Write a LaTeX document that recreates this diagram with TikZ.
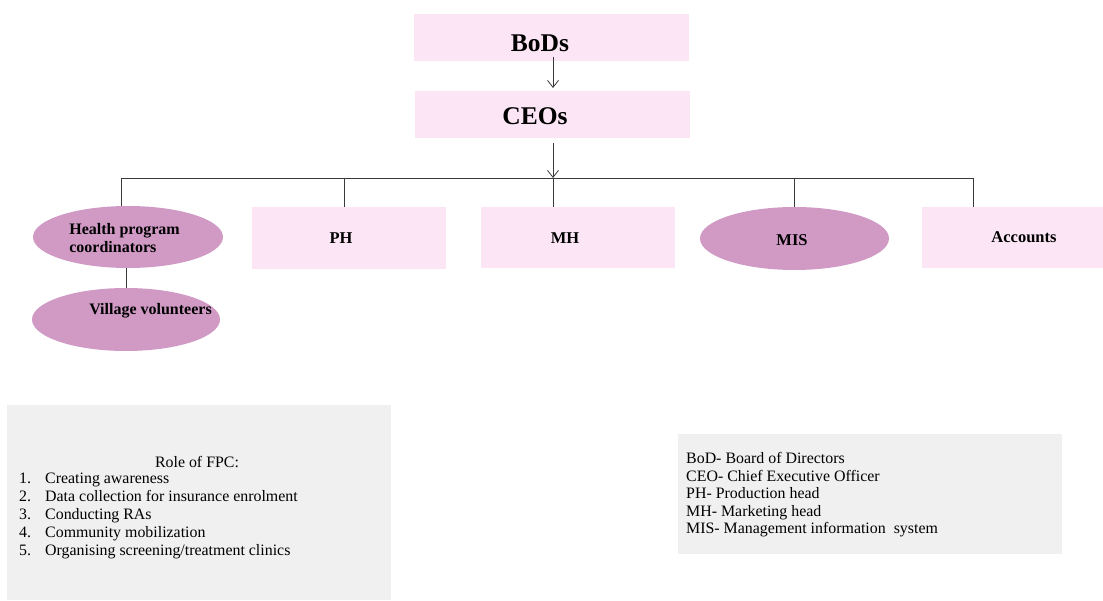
\documentclass[tikz,border=0pt]{standalone}
\usepackage{fontspec}
\setmainfont{Liberation Serif}
\usetikzlibrary{shapes.geometric,arrows.meta}
\definecolor{pinkbox}{HTML}{FCE6F5}
\definecolor{mauve}{HTML}{D09AC5}
\definecolor{greybox}{HTML}{F0F0F0}
\definecolor{linec}{HTML}{3A3A3A}
\tikzset{
  pinkrect/.style={rectangle, fill=pinkbox, inner sep=0pt},
  mauveell/.style={ellipse, fill=mauve, inner sep=0pt},
  toptext/.style={inner sep=0pt, font=\fontsize{25.5}{28}\selectfont\bfseries},
  labtext/.style={inner sep=0pt, font=\fontsize{16.5}{18}\selectfont\bfseries},
  elltext/.style={inner sep=0pt, font=\fontsize{16}{18}\selectfont\bfseries},
  conn/.style={draw=linec, line width=0.8pt},
  arr/.style={conn, -{Straight Barb[length=7pt,width=11pt]}},
  greyrect/.style={rectangle, fill=greybox, inner sep=0pt},
  plain/.style={font=\fontsize{15.9}{18}\selectfont, inner sep=0pt}
}
\begin{document}
\begin{tikzpicture}[x=1pt,y=-1pt]
\useasboundingbox (0,0) rectangle (1103,601);
% top
\node[pinkrect, minimum width=275pt, minimum height=47pt] (bod) at (551.5,37.5) {};
\node[toptext] (bodt) at (540,43) {BoDs};
\node[pinkrect, minimum width=275pt, minimum height=47pt] (ceo) at (552,115) {};
\node[toptext] (ceot) at (535,116) {CEOs};
\draw[arr] (553,57) -- (553,88);
% bus
\coordinate (busL) at (121,178);
\coordinate (busC) at (553,178);
\coordinate (busR) at (973,178);
\draw[arr] (553,143) -- (busC);
\draw[conn] (busL) -- (busR);
% second row
\node[mauveell, minimum width=190pt, minimum height=62pt] (hpc) at (128,237) {};
\node[elltext, align=left] (hpct) at (124.5,238) {Health program\\coordinators};
\node[pinkrect, minimum width=194pt, minimum height=62pt] (ph) at (349,238) {};
\node[labtext] (pht) at (341,238) {PH};
\node[pinkrect, minimum width=194pt, minimum height=61pt] (mh) at (578,237.5) {};
\node[labtext] (mht) at (565,238) {MH};
\node[mauveell, minimum width=189pt, minimum height=63pt] (mis) at (794.5,238.5) {};
\node[labtext] (mist) at (792,240) {MIS};
\node[pinkrect, minimum width=181pt, minimum height=61pt] (acc) at (1012.5,237.5) {};
\node[labtext] (acct) at (1024,237) {Accounts};
% drops
\draw[conn] (busL) -- (hpc.north -| busL);
\draw[conn] (344,178) -- (344,207);
\draw[conn] (busC) -- (553,207);
\draw[conn] (mis.north |- busC) -- (mis.north);
\draw[conn] (busR) -- (973,207);
% village
\node[mauveell, minimum width=188pt, minimum height=63pt] (vv) at (126,319.5) {};
\node[elltext] (vvt) at (150.5,311) {Village volunteers};
\draw[conn] (126,268) -- (vv.north -| 126,0);
% role box
\node[greyrect, minimum width=384pt, minimum height=195pt] (rolebox) at (199,502.5) {};
\node[plain] (roletitle) at (197,462) {Role of FPC:};
\node[plain, align=left, anchor=west] (rolelist) at (19,516) {%
\makebox[26pt][l]{1.}Creating awareness\\
\makebox[26pt][l]{2.}Data collection for insurance enrolment\\
\makebox[26pt][l]{3.}Conducting RAs\\
\makebox[26pt][l]{4.}Community mobilization\\
\makebox[26pt][l]{5.}Organising screening/treatment clinics};
% abbreviations
\node[greyrect, minimum width=384pt, minimum height=120pt] (abbrbox) at (870,494) {};
\node[plain, font=\fontsize{15.9}{17.5}\selectfont, align=left, anchor=west] (abbr) at (686,495) {%
BoD- Board of Directors\\
CEO- Chief Executive Officer\\
PH- Production head\\
MH- Marketing head\\
MIS- Management information\ \ system};
\end{tikzpicture}
\end{document}
